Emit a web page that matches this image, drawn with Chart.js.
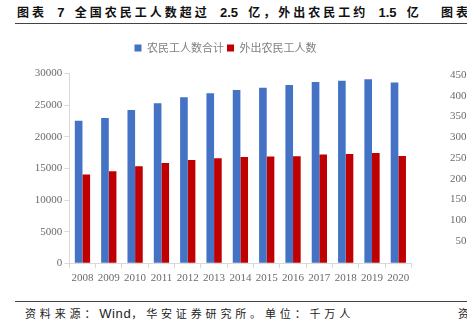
<!DOCTYPE html>
<html lang="zh">
<head>
<meta charset="utf-8">
<script src="https://cdn.jsdelivr.net/npm/chart.js@4/dist/chart.umd.min.js"></script>
<style>
  html, body { margin: 0; padding: 0; background: #fff; }
  body { width: 467px; height: 327px; overflow: hidden; position: relative; }
  .head, .foot { position: absolute; white-space: nowrap; color: #111; font-family: "Noto Sans CJK SC", sans-serif; }
  .head { top: 3px; font-size: 12px; font-weight: 700; letter-spacing: 3px; word-spacing: 4.5px; line-height: 18px; }
  .head .num { font-family: "Liberation Sans", Arial, sans-serif; font-size: 13px; letter-spacing: 0; }
  .foot { top: 304px; font-size: 11px; letter-spacing: 3.85px; line-height: 18px; color: #222; }
  .foot .lat { font-family: "Liberation Sans", Arial, sans-serif; font-size: 13px; letter-spacing: 0.6px; }
  .rule { position: absolute; left: 15px; right: 0; height: 1px; background: #444; }
  canvas { position: absolute; }
</style>
</head>
<body>
<div class="head" style="left:17px">图表 <span class="num">7</span> 全国农民工人数超过 <span class="num">2.5</span> 亿，外出农民工约 <span class="num">1.5</span> 亿</div>
<div class="head" style="left:441px">图表</div>
<div class="rule" style="top:23px"></div>
<div class="rule" style="top:301px"></div>
<div class="foot" style="left:25px">资料来源：<span class="lat">Wind</span>，华安证券研究所。单位：千万人</div>
<div class="foot" style="left:458px">资</div>

<div style="position:absolute;left:0;top:0;width:467px;height:300px">
  <canvas id="main"></canvas>
</div>
<div style="position:absolute;left:400px;top:0;width:200px;height:300px">
  <canvas id="side"></canvas>
</div>

<script>
// Years and head-counts (万人)
const years = ['2008','2009','2010','2011','2012','2013','2014','2015','2016','2017','2018','2019','2020'];
const totalWorkers = [22542, 22978, 24223, 25278, 26261, 26894, 27395, 27747, 28171, 28652, 28836, 29077, 28560];
const migrantWorkers = [14041, 14533, 15335, 15863, 16336, 16610, 16821, 16884, 16934, 17185, 17266, 17425, 16959];
const seriesNames = ['农民工人数合计', '外出农民工人数'];
const yMax = 30000;
const yStep = 5000;

// Axis range of the neighbouring panel on the right
const sideMax = 4500;
const sideStep = 500;

const tickFont = { family: '"Liberation Serif", "Times New Roman", serif', size: 11 };
const tickColor = '#6b6b6b';
const axisColor = '#d9d9d9';
const plainNumber = v => String(v);

// Leaves a gap between the legend row and the plot area
const legendGap = {
  id: 'legendGap',
  afterInit(chart) {
    const lg = chart.legend;
    if (!lg) return;
    const fit = lg.fit;
    lg.fit = function () { fit.call(this); this.height += 10; };
  }
};

new Chart(document.getElementById('main'), {
  type: 'bar',
  data: {
    labels: years,
    datasets: [
      { label: seriesNames[0], data: totalWorkers, backgroundColor: '#4472C4' },
      { label: seriesNames[1], data: migrantWorkers, backgroundColor: '#C00000' }
    ]
  },
  options: {
    responsive: true,
    maintainAspectRatio: false,
    animation: false,
    layout: { padding: { left: 0, right: 16, top: 39.5, bottom: 0 } },
    datasets: { bar: { categoryPercentage: 0.58, barPercentage: 1.0 } },
    plugins: {
      legend: {
        position: 'top',
        labels: {
          boxWidth: 7, boxHeight: 7, padding: 3,
          color: '#808080',
          font: { family: '"Noto Sans CJK SC", sans-serif', size: 11 }
        }
      },
      tooltip: { enabled: false }
    },
    scales: {
      x: {
        grid: { display: true, drawOnChartArea: false, tickLength: 5, color: axisColor, offset: true },
        border: { color: axisColor },
        ticks: { color: tickColor, font: tickFont, padding: 3, maxRotation: 0, autoSkip: false },
        afterFit(s) { s.height = 36.7; }
      },
      y: {
        min: 0, max: yMax,
        grid: { display: true, drawOnChartArea: false, tickLength: 5, color: axisColor },
        border: { color: axisColor },
        ticks: { stepSize: yStep, color: tickColor, font: tickFont, padding: 2, callback: plainNumber },
        afterFit(s) { s.width = 69.3; }
      },
      // empty right-hand margin inside the layout so the legend sits over the whole figure
      yPad: {
        type: 'linear', position: 'right', display: true,
        grid: { display: false }, border: { display: false },
        ticks: { display: false },
        afterFit(s) { s.width = 39.5; }
      }
    }
  },
  plugins: [legendGap]
});

new Chart(document.getElementById('side'), {
  type: 'bar',
  data: { labels: years, datasets: [] },
  options: {
    responsive: true,
    maintainAspectRatio: false,
    animation: false,
    layout: { padding: { left: 0, right: 0, top: 75, bottom: 38.3 } },
    plugins: { legend: { display: false }, tooltip: { enabled: false } },
    scales: {
      x: { display: false },
      y: {
        min: 0, max: sideMax,
        grid: { display: true, drawOnChartArea: false, tickLength: 5, color: axisColor },
        border: { color: axisColor },
        ticks: { stepSize: sideStep, color: tickColor, font: tickFont, padding: 3, callback: plainNumber },
        afterFit(s) { s.width = 80; }
      }
    }
  }
});
</script>
</body>
</html>
